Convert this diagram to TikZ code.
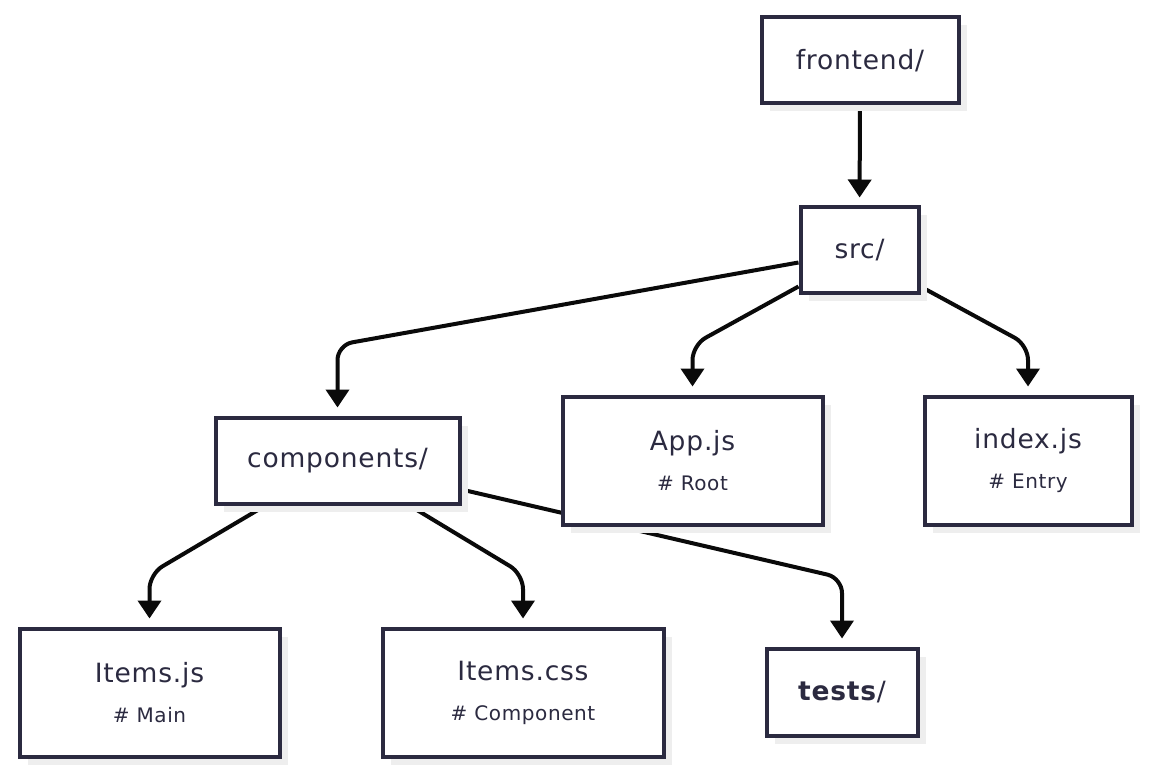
\documentclass[tikz,border=0pt]{standalone}
\usepackage{fontspec}
\setmainfont{DejaVu Sans}[LetterSpace=3]
\usetikzlibrary{arrows.meta,shadows,backgrounds,calc}

\definecolor{boxline}{HTML}{2B2A40}
\definecolor{boxshade}{HTML}{EEEEEE}
\definecolor{edgeline}{HTML}{0A0A0A}

\tikzset{
	dirbox/.style={draw=boxline, line width=4pt, fill=white, text=boxline,
		inner sep=0pt, align=center, font=\fontsize{26.5}{30}\selectfont,
		drop shadow={shadow xshift=8pt, shadow yshift=-8pt, fill=boxshade, opacity=1}},
	edge/.style={draw=edgeline, line width=4pt, rounded corners=15pt, shorten >=8pt,
		-{Triangle[width=23pt,length=18pt]}},
}
\newcommand{\note}[1]{\\[10pt]{\fontsize{20}{22}\selectfont #1}}

\begin{document}
\begin{tikzpicture}[x=1pt,y=-1pt]
	\useasboundingbox (0,0) rectangle (1150,775);

	\node[dirbox, minimum width=197pt, minimum height=86pt] (frontend) at (860,60.5) {frontend/};
	\node[dirbox, minimum width=118pt, minimum height=86pt] (src) at (859.5,250.5) {src/};
	\node[dirbox, minimum width=244pt, minimum height=86pt] (comp) at (337.5,460.5) {components/};
	\node[dirbox, minimum width=260pt, minimum height=128pt] (app) at (692.5,460.5) {App.js\note{\# Root}};
	\node[dirbox, minimum width=207pt, minimum height=128pt] (index) at (1028,460.5) {index.js\note{\# Entry}};
	\node[dirbox, minimum width=260pt, minimum height=128pt] (itemsjs) at (149.5,692.5) {Items.js\note{\# Main}};
	\node[dirbox, minimum width=281pt, minimum height=128pt] (itemscss) at (523,692.5) {Items.css\note{\# Component}};
	\node[dirbox, minimum width=151pt, minimum height=87pt] (tests) at (842,692) {\textbf{tests}/};

	\begin{scope}[on background layer]
		\draw[edge] (frontend) -- (src);
		\draw[edge] ($(src.west)+(0,12)$) -- (comp.north |- 0,345) -- (comp.north);
		\draw[edge] ($(src.south west)+(0,-9)$) -- (app.north |- 0,345) -- (app.north);
		\draw[edge] ($(src.south east)+(0,-9)$) -- (index.north |- 0,345) -- (index.north);
		\draw[edge] ($(comp.south)+(-72,0)$) -- (itemsjs.north |- 0,574) -- (itemsjs.north);
		\draw[edge] ($(comp.south)+(72,0)$) -- (itemscss.north |- 0,574) -- (itemscss.north);
		\draw[edge] ($(comp.east)+(0,29)$) -- (tests.north |- 0,578) -- (tests.north);
	\end{scope}
\end{tikzpicture}
\end{document}
